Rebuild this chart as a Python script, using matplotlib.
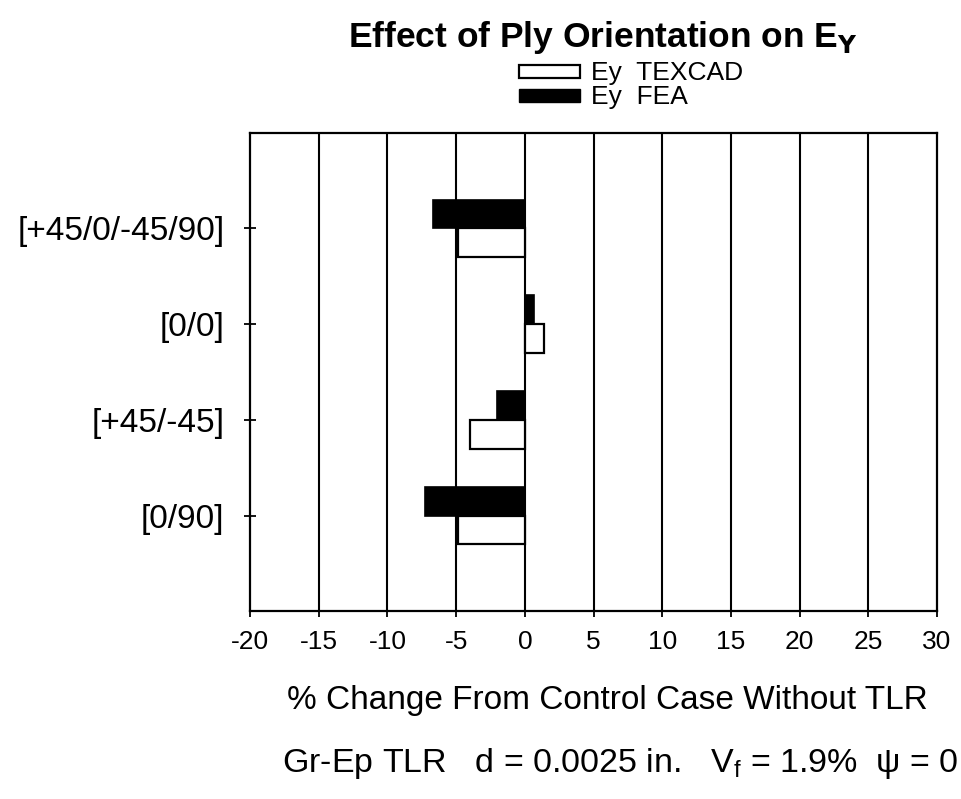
import numpy as np
import matplotlib.pyplot as plt
from matplotlib.patches import Patch

plt.rcParams['font.family'] = ['Liberation Sans', 'DejaVu Sans']

# data, top to bottom
layups = ['[+45/0/-45/90]', '[0/0]', '[+45/-45]', '[0/90]']
ey_texcad = [-4.9, 1.4, -4.0, -4.9]
ey_fea = [-6.7, 0.7, -2.0, -7.3]
xticks = np.arange(-20, 31, 5)

fig = plt.figure(figsize=(9.62, 7.99), dpi=100)
ax = fig.add_axes([0.260, 0.235, 0.714, 0.599])

pos = np.arange(1, len(layups) + 1)
bh = 0.3
ax.barh(pos - bh / 2, ey_fea, height=bh, color='black', edgecolor='black', lw=1.2)
ax.barh(pos + bh / 2, ey_texcad, height=bh, color='white', edgecolor='black', lw=1.6)

ax.set_xlim(-20, 30)
ax.set_ylim(5, 0)
ax.set_xticks(xticks)
ax.set_xticklabels([str(t) for t in xticks], fontsize=19)
ax.set_yticks(pos)
ax.set_yticklabels(layups, fontsize=24)
ax.tick_params(axis='both', direction='inout', length=9, width=1.3, color='black')
ax.tick_params(axis='x', pad=9)
ax.tick_params(axis='y', pad=14)
for x in xticks[1:-1]:
    ax.axvline(x, color='black', lw=1.5, zorder=0)
for s in ax.spines.values():
    s.set_linewidth(1.6)
    s.set_color('black')
ax.set_axisbelow(True)

ax.set_xlabel('% Change From Control Case Without TLR', fontsize=24, va='baseline')
ax.xaxis.set_label_coords(0.520, -0.205)

fig.text(0.627, 0.941, r'Effect of Ply Orientation on E$_{\mathbf{Y}}$', fontsize=25.5,
         fontweight='bold', ha='center', va='baseline')

handles = [Patch(facecolor='white', edgecolor='black', lw=1.6),
           Patch(facecolor='black', edgecolor='black')]
fig.legend(handles, ['Ey  TEXCAD', 'Ey  FEA'], loc='center left',
           bbox_to_anchor=(0.526, 0.893), frameon=False, fontsize=19,
           handlelength=2.3, handleheight=0.38, handletextpad=0.42,
           labelspacing=0.0, borderpad=0)

fig.text(0.645, 0.034, 'Gr-Ep TLR   d = 0.0025 in.   V$_\\mathregular{f}$ = 1.9%  ψ = 0',
         fontsize=24.5, ha='center', va='baseline')

fig.savefig('out.png', dpi=100)
